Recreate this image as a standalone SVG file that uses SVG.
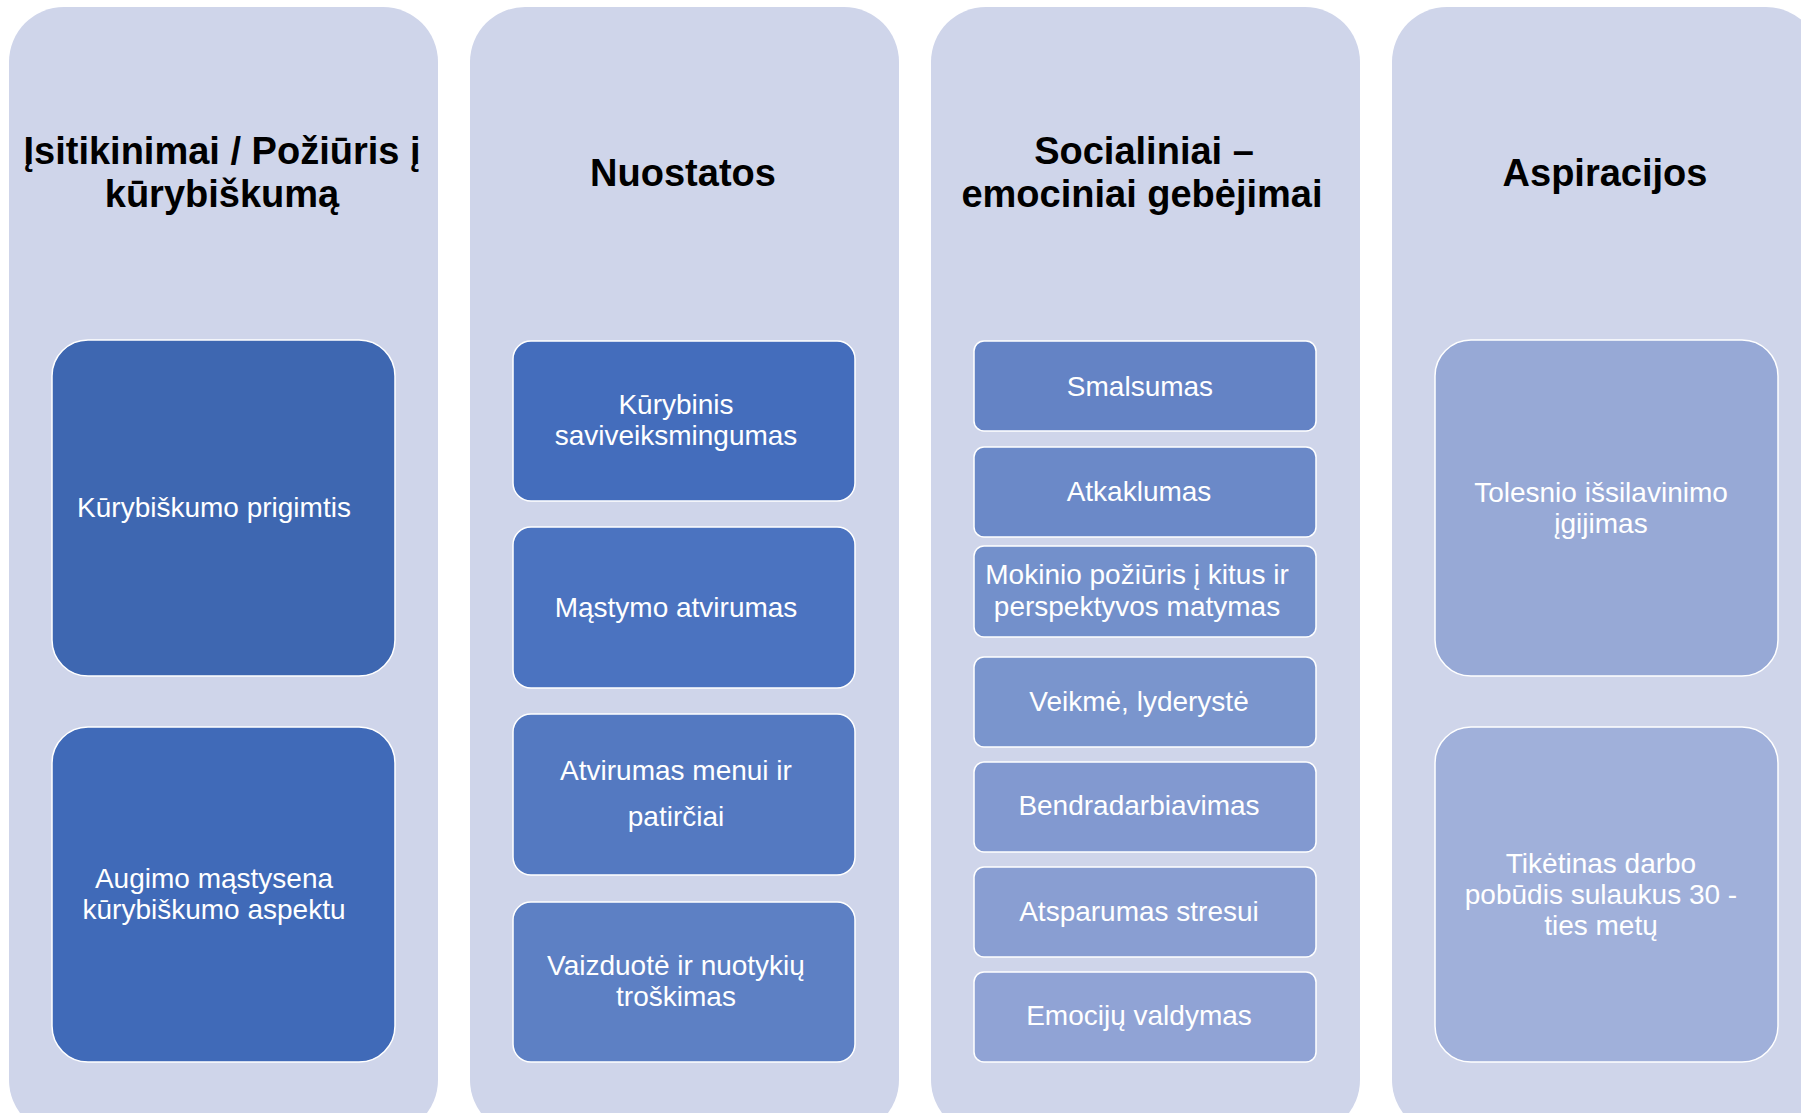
<svg xmlns="http://www.w3.org/2000/svg" width="1801" height="1113" viewBox="0 0 1801 1113">
<style>
.col{fill:#CFD5EA;}
.hdr{font-family:"Liberation Sans",Arial,sans-serif;font-weight:bold;font-size:38px;fill:#000;text-anchor:middle;}
.box{stroke:#FFFFFF;stroke-width:1.5;}
.lbl{font-family:"Liberation Sans",Arial,sans-serif;font-size:28px;fill:#FFFFFF;text-anchor:middle;}
</style>
<rect width="1801" height="1113" fill="#FFFFFF"/>
<g id="col1">
<rect class="col" x="9" y="7" width="429" height="1128" rx="55" ry="55"/>
<text class="hdr" x="222" y="164">Įsitikinimai / Požiūris į</text>
<text class="hdr" x="222" y="207">kūrybiškumą</text>
</g>
<g id="col2">
<rect class="col" x="470" y="7" width="429" height="1128" rx="55" ry="55"/>
<text class="hdr" x="683" y="186">Nuostatos</text>
</g>
<g id="col3">
<rect class="col" x="931" y="7" width="429" height="1128" rx="55" ry="55"/>
<text class="hdr" x="1144" y="164">Socialiniai –</text>
<text class="hdr" x="1142" y="207">emociniai gebėjimai</text>
</g>
<g id="col4">
<rect class="col" x="1392" y="7" width="429" height="1128" rx="55" ry="55"/>
<text class="hdr" x="1605" y="186">Aspiracijos</text>
</g>
<g id="connectors"></g>
<g id="n-c1-1">
<rect class="box" x="52" y="340" width="343" height="336" rx="36" fill="#3E67B1"/>
<text class="lbl" x="214" y="517">Kūrybiškumo prigimtis</text>
</g>
<g id="n-c1-2">
<rect class="box" x="52" y="727" width="343" height="335" rx="36" fill="#406AB8"/>
<text class="lbl" x="214" y="888">Augimo mąstysena</text>
<text class="lbl" x="214" y="919">kūrybiškumo aspektu</text>
</g>
<g id="n-c2-1">
<rect class="box" x="513" y="341" width="342" height="160" rx="18" fill="#446DBC"/>
<text class="lbl" x="676" y="414">Kūrybinis</text>
<text class="lbl" x="676" y="445">saviveiksmingumas</text>
</g>
<g id="n-c2-2">
<rect class="box" x="513" y="527" width="342" height="161" rx="18" fill="#4B73C0"/>
<text class="lbl" x="676" y="617">Mąstymo atvirumas</text>
</g>
<g id="n-c2-3">
<rect class="box" x="513" y="714" width="342" height="161" rx="18" fill="#5479C1"/>
<text class="lbl" x="676" y="780">Atvirumas menui ir</text>
<text class="lbl" x="676" y="826">patirčiai</text>
</g>
<g id="n-c2-4">
<rect class="box" x="513" y="902" width="342" height="160" rx="18" fill="#5D80C4"/>
<text class="lbl" x="676" y="975">Vaizduotė ir nuotykių</text>
<text class="lbl" x="676" y="1006">troškimas</text>
</g>
<g id="n-c3-1">
<rect class="box" x="974" y="341" width="342" height="90" rx="10" fill="#6483C5"/>
<text class="lbl" x="1140" y="396">Smalsumas</text>
</g>
<g id="n-c3-2">
<rect class="box" x="974" y="447" width="342" height="90" rx="10" fill="#6B89C8"/>
<text class="lbl" x="1139" y="501">Atkaklumas</text>
</g>
<g id="n-c3-3">
<rect class="box" x="974" y="546" width="342" height="91" rx="10" fill="#7390CB"/>
<text class="lbl" x="1137" y="584">Mokinio požiūris į kitus ir</text>
<text class="lbl" x="1137" y="616">perspektyvos matymas</text>
</g>
<g id="n-c3-4">
<rect class="box" x="974" y="657" width="342" height="90" rx="10" fill="#7A95CD"/>
<text class="lbl" x="1139" y="711">Veikmė, lyderystė</text>
</g>
<g id="n-c3-5">
<rect class="box" x="974" y="762" width="342" height="90" rx="10" fill="#8299D0"/>
<text class="lbl" x="1139" y="815">Bendradarbiavimas</text>
</g>
<g id="n-c3-6">
<rect class="box" x="974" y="867" width="342" height="90" rx="10" fill="#899ED2"/>
<text class="lbl" x="1139" y="921">Atsparumas stresui</text>
</g>
<g id="n-c3-7">
<rect class="box" x="974" y="972" width="342" height="90" rx="10" fill="#90A3D5"/>
<text class="lbl" x="1139" y="1025">Emocijų valdymas</text>
</g>
<g id="n-c4-1">
<rect class="box" x="1435" y="340" width="343" height="336" rx="36" fill="#97A9D6"/>
<text class="lbl" x="1601" y="502">Tolesnio išsilavinimo</text>
<text class="lbl" x="1601" y="533">įgijimas</text>
</g>
<g id="n-c4-2">
<rect class="box" x="1435" y="727" width="343" height="335" rx="36" fill="#A0B0DA"/>
<text class="lbl" x="1601" y="873">Tikėtinas darbo</text>
<text class="lbl" x="1601" y="904">pobūdis sulaukus 30 -</text>
<text class="lbl" x="1601" y="935">ties metų</text>
</g>
</svg>
